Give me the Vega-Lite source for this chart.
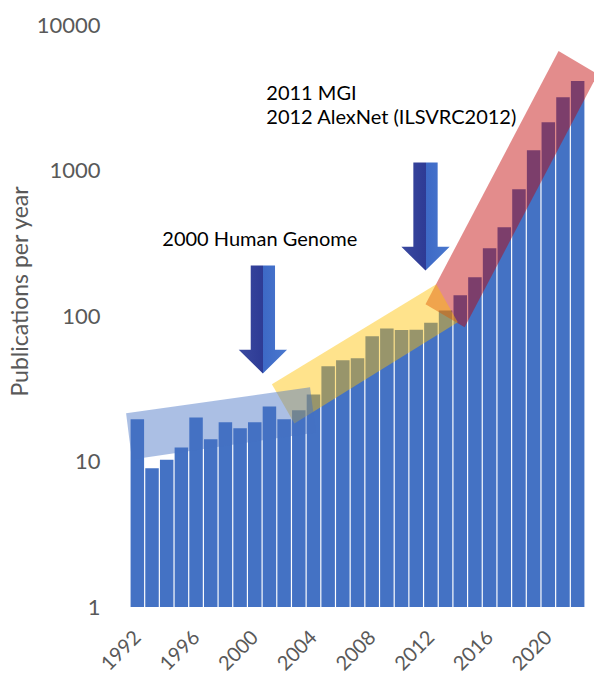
{
  "$schema": "https://vega.github.io/schema/vega-lite/v6.json",
  "width": 465,
  "height": 582,
  "autosize": {"type": "none"},
  "padding": {"left": 125, "top": 25, "right": 4, "bottom": 68},
  "background": "white",
  "config": {
    "view": {"stroke": null},
    "font": "Lato",
    "axis": {"grid": false, "domain": false, "ticks": false, "labelFont": "Lato", "titleFont": "Lato", "labelColor": "#595959", "titleColor": "#595959"}
  },
  "datasets": {
    "pubs": [
      {"year": 1992, "papers": 19.5}, {"year": 1993, "papers": 9.0}, {"year": 1994, "papers": 10.3},
      {"year": 1995, "papers": 12.5}, {"year": 1996, "papers": 20.1}, {"year": 1997, "papers": 14.2},
      {"year": 1998, "papers": 18.6}, {"year": 1999, "papers": 16.9}, {"year": 2000, "papers": 18.6},
      {"year": 2001, "papers": 23.9}, {"year": 2002, "papers": 19.5}, {"year": 2003, "papers": 22.5},
      {"year": 2004, "papers": 28.9}, {"year": 2005, "papers": 45.1}, {"year": 2006, "papers": 49.6},
      {"year": 2007, "papers": 51.2}, {"year": 2008, "papers": 72.5}, {"year": 2009, "papers": 82},
      {"year": 2010, "papers": 80}, {"year": 2011, "papers": 80.5}, {"year": 2012, "papers": 90},
      {"year": 2013, "papers": 109}, {"year": 2014, "papers": 139}, {"year": 2015, "papers": 185},
      {"year": 2016, "papers": 292}, {"year": 2017, "papers": 408}, {"year": 2018, "papers": 744},
      {"year": 2019, "papers": 1380}, {"year": 2020, "papers": 2150}, {"year": 2021, "papers": 3190},
      {"year": 2022, "papers": 4130}
    ],
    "redBand": [
      {"i": 1, "year": 2011.633, "papers": 120.4}, {"i": 2, "year": 2020.7, "papers": 6614},
      {"i": 3, "year": 2023.367, "papers": 4596}, {"i": 4, "year": 2014.3, "papers": 83.6}
    ],
    "yellowBand": [
      {"i": 1, "year": 2001.167, "papers": 33.9}, {"i": 2, "year": 2012.367, "papers": 165.2},
      {"i": 3, "year": 2013.833, "papers": 90.5}, {"i": 4, "year": 2002.7, "papers": 18.28}
    ],
    "blueBand": [
      {"i": 1, "year": 1991.233, "papers": 21.42}, {"i": 2, "year": 2003.767, "papers": 32.33},
      {"i": 3, "year": 2004.167, "papers": 15.85}, {"i": 4, "year": 1991.633, "papers": 10.34}
    ],
    "arrows": [
      {"year": 2000.553, "papers": 94.6}, {"year": 2011.633, "papers": 482.6}
    ],
    "notes": [
      {"year": 1993.7, "papers": 304, "label": "2000 Human Genome"},
      {"year": 2000.787, "papers": 3045, "label": "2011 MGI"},
      {"year": 2000.787, "papers": 2098, "label": "2012 AlexNet (ILSVRC2012)"}
    ]
  },
  "encoding": {
    "x": {
      "field": "year", "type": "quantitative",
      "scale": {"domain": [1991.5, 2022.5], "nice": false, "zero": false},
      "axis": {"title": null, "values": [1992, 1996, 2000, 2004, 2008, 2012, 2016, 2020], "format": "d", "labelAngle": -45, "labelAlign": "right", "labelBaseline": "top", "labelFontSize": 20, "labelPadding": 20, "labelOffset": -7, "labelOverlap": false, "labelFlush": false, "labelBound": false}
    },
    "y": {
      "field": "papers", "type": "quantitative",
      "scale": {"type": "log", "domain": [1, 10000], "nice": false},
      "axis": {"title": "Publications per year", "values": [1, 10, 100, 1000, 10000], "format": "d", "labelFontSize": 22, "labelPadding": 25, "titleFontSize": 23, "titleFontWeight": "normal", "titleX": -105, "titleY": 266, "titleBaseline": "middle", "titleAngle": -90}
    }
  },
  "layer": [
    {
      "data": {"name": "pubs"},
      "mark": {"type": "bar", "orient": "vertical", "width": 13.5, "color": "#4472C4"},
      "encoding": {
        "y2": {"datum": 1}
      }
    },
    {
      "data": {"name": "redBand"},
      "mark": {"type": "line", "interpolate": "linear-closed", "fill": "#C00000", "fillOpacity": 0.45, "strokeOpacity": 0, "strokeWidth": 0},
      "encoding": {"order": {"field": "i", "type": "quantitative"}}
    },
    {
      "data": {"name": "yellowBand"},
      "mark": {"type": "line", "interpolate": "linear-closed", "fill": "#FFC000", "fillOpacity": 0.45, "strokeOpacity": 0, "strokeWidth": 0},
      "encoding": {"order": {"field": "i", "type": "quantitative"}}
    },
    {
      "data": {"name": "blueBand"},
      "mark": {"type": "line", "interpolate": "linear-closed", "fill": "#4472C4", "fillOpacity": 0.45, "strokeOpacity": 0, "strokeWidth": 0},
      "encoding": {"order": {"field": "i", "type": "quantitative"}}
    },
    {
      "data": {"name": "arrows"},
      "mark": {
        "type": "point",
        "shape": "M -0.225 -1 L 0.225 -1 L 0.225 0.561 L 0.447 0.561 L 0 1 L -0.447 0.561 L -0.225 0.561 Z",
        "size": 11664, "filled": true, "opacity": 1, "strokeWidth": 0,
        "fill": {"gradient": "linear", "x1": 0, "y1": 0, "x2": 1, "y2": 0, "stops": [
          {"offset": 0, "color": "#3A49A0"}, {"offset": 0.5, "color": "#2E3B95"},
          {"offset": 0.5, "color": "#3D69C6"}, {"offset": 1, "color": "#4A78CE"}
        ]}
      }
    },
    {
      "data": {"name": "notes"},
      "mark": {"type": "text", "align": "left", "baseline": "alphabetic", "font": "Lato", "fontSize": 20, "color": "#000000"},
      "encoding": {"text": {"field": "label", "type": "nominal"}}
    }
  ]
}
